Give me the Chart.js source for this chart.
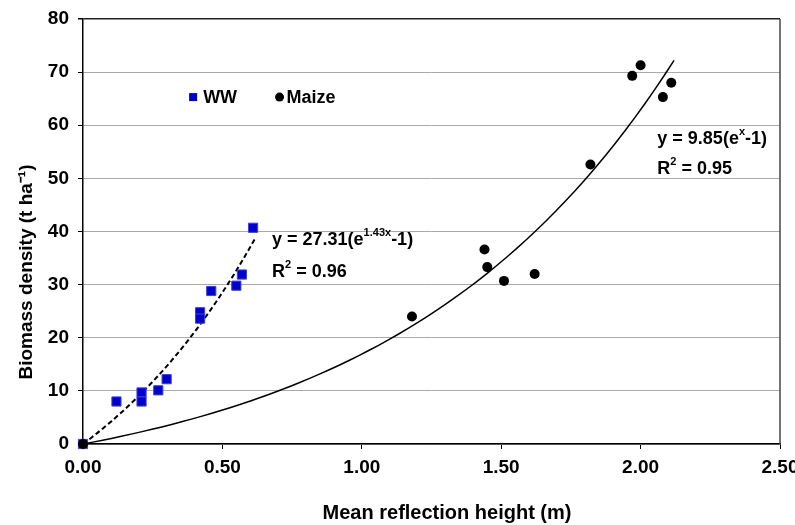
<!DOCTYPE html>
<html>
<head>
<meta charset="utf-8">
<script src="https://cdn.jsdelivr.net/npm/chart.js@4.4.1/dist/chart.umd.min.js"></script>
<style>
html, body { margin: 0; padding: 0; background: #fff; }
</style>
</head>
<body>
<canvas id="chart-area" width="795" height="525"></canvas>
<script>
// measured points
var wwX = [0, 0.12, 0.21, 0.21, 0.27, 0.30, 0.42, 0.42, 0.46, 0.55, 0.57, 0.61];
var wwY = [0, 8.0, 9.7, 8.0, 10.1, 12.2, 24.8, 23.6, 28.8, 29.8, 31.9, 40.7];
var maizeX = [0, 1.18, 1.44, 1.45, 1.51, 1.62, 1.82, 1.97, 2.00, 2.08, 2.11];
var maizeY = [0, 24.0, 36.6, 33.3, 30.7, 32.0, 52.6, 69.3, 71.3, 65.3, 68.0];

// fitted curves y = a(e^(bx) - 1), as printed on the chart
var wwFit = { a: 27.31, b: 1.43, xMax: 0.62 };
var maizeFit = { a: 9.85, b: 1.0, xMax: 2.12 };

var xTicks = [0, 0.5, 1, 1.5, 2, 2.5];
var yTicks = [0, 10, 20, 30, 40, 50, 60, 70, 80];

var xTitle = 'Mean reflection height (m)';
var yTitle = 'Biomass density (t ha\u207B\u00B9)';

var FONT = "'Liberation Sans', Arial, sans-serif";

function toPoints(xs, ys) {
    return xs.map(function (x, i) { return { x: x, y: ys[i] }; });
}

function fitPoints(fit) {
    var pts = [];
    var n = 60;
    for (var i = 0; i <= n; i++) {
        var x = fit.xMax * i / n;
        pts.push({ x: x, y: fit.a * (Math.exp(fit.b * x) - 1) });
    }
    return pts;
}

// text with superscript parts
function drawRich(ctx, parts, x, y) {
    ctx.textBaseline = 'middle';
    ctx.textAlign = 'left';
    ctx.fillStyle = '#000';
    parts.forEach(function (p) {
        if (p.sup) {
            ctx.font = 'bold 11px ' + FONT;
            ctx.fillText(p.t, x, y - 7);
        } else {
            ctx.font = 'bold 18px ' + FONT;
            ctx.fillText(p.t, x, y);
        }
        x += ctx.measureText(p.t).width;
    });
}

var extras = {
    id: 'extras',
    beforeDatasetsDraw: function (chart) {
        var ctx = chart.ctx, a = chart.chartArea;
        ctx.save();
        ctx.strokeStyle = '#444';
        ctx.lineWidth = 1.5;
        ctx.beginPath();
        ctx.moveTo(a.right, a.top);
        ctx.lineTo(a.right, a.bottom);
        ctx.stroke();
        ctx.restore();
    },
    afterDraw: function (chart) {
        var ctx = chart.ctx;
        var xs = chart.scales.x, ys = chart.scales.y;
        ctx.save();

        // axis titles
        ctx.fillStyle = '#000';
        ctx.font = 'bold 20px ' + FONT;
        ctx.textAlign = 'center';
        ctx.textBaseline = 'middle';
        ctx.fillText(xTitle, 447, 513);
        ctx.save();
        ctx.translate(27, 272);
        ctx.rotate(-Math.PI / 2);
        ctx.font = 'bold 19px ' + FONT;
        ctx.fillText(yTitle, 0, 0);
        ctx.restore();

        // legend
        var lx = xs.getPixelForValue(0.395), ly = ys.getPixelForValue(65.3);
        ctx.fillStyle = '#0000cc';
        ctx.fillRect(lx - 4, ly - 4, 8, 8);
        ctx.fillStyle = '#000';
        ctx.font = 'bold 18px ' + FONT;
        ctx.textBaseline = 'middle';
        ctx.textAlign = 'left';
        ctx.fillText('WW', lx + 10, ly + 1);
        var mx = xs.getPixelForValue(0.705);
        ctx.beginPath();
        ctx.arc(mx, ly, 4.5, 0, Math.PI * 2);
        ctx.fill();
        ctx.fillText('Maize', mx + 7, ly + 1);

        // equations
        drawRich(ctx, [{ t: 'y = 27.31(e' }, { t: '1.43x', sup: true }, { t: '-1)' }],
            xs.getPixelForValue(0.678), ys.getPixelForValue(38.4));
        drawRich(ctx, [{ t: 'R' }, { t: '2', sup: true }, { t: ' = 0.96' }],
            xs.getPixelForValue(0.678), ys.getPixelForValue(32.4));
        drawRich(ctx, [{ t: 'y = 9.85(e' }, { t: 'x', sup: true }, { t: '-1)' }],
            xs.getPixelForValue(2.06), ys.getPixelForValue(57.4));
        drawRich(ctx, [{ t: 'R' }, { t: '2', sup: true }, { t: ' = 0.95' }],
            xs.getPixelForValue(2.06), ys.getPixelForValue(51.8));
        ctx.restore();
    }
};

var config = {
    type: 'scatter',
    data: {
        datasets: [{
            label: 'Maize',
            data: toPoints(maizeX, maizeY),
            pointStyle: 'circle',
            pointRadius: 5,
            backgroundColor: '#000',
            borderColor: '#000',
            borderWidth: 0,
            clip: false
        }, {
            label: 'WW',
            data: toPoints(wwX, wwY),
            pointStyle: 'rect',
            pointRadius: 6.5,
            backgroundColor: '#0000cc',
            borderColor: '#4040dd',
            borderWidth: 1,
            clip: false
        }, {
            label: 'WW fit',
            data: fitPoints(wwFit),
            showLine: true,
            pointRadius: 0,
            borderColor: '#000',
            borderWidth: 2,
            borderDash: [5, 3]
        }, {
            label: 'Maize fit',
            data: fitPoints(maizeFit),
            showLine: true,
            pointRadius: 0,
            borderColor: '#000',
            borderWidth: 1.5
        }]
    },
    options: {
        responsive: false,
        animation: false,
        layout: { padding: { top: 19, right: 15, left: 12, bottom: 0 } },
        plugins: {
            legend: { display: false },
            tooltip: { enabled: false }
        },
        scales: {
            x: {
                type: 'linear',
                min: 0,
                max: 2.5,
                afterBuildTicks: function (s) { s.ticks = xTicks.map(function (v) { return { value: v }; }); },
                afterFit: function (s) { s.height = 81; s.paddingRight = 0; s.paddingLeft = 0; },
                ticks: {
                    color: '#000',
                    font: { family: FONT, size: 19, weight: 'bold' },
                    padding: 7,
                    maxRotation: 0,
                    callback: function (v) { return v.toFixed(2); }
                },
                grid: { drawOnChartArea: false, tickLength: 5, tickColor: '#000' },
                border: { color: '#000', width: 1.5 },
                title: { display: false }
            },
            y: {
                min: 0,
                max: 80,
                afterBuildTicks: function (s) { s.ticks = yTicks.map(function (v) { return { value: v }; }); },
                afterFit: function (s) { s.width = 71; s.paddingTop = 0; s.paddingBottom = 0; },
                ticks: {
                    color: '#000',
                    font: { family: FONT, size: 19, weight: 'bold' },
                    padding: 9
                },
                grid: {
                    color: function (c) { return c.tick && c.tick.value === 80 ? '#222' : '#aaaaaa'; },
                    lineWidth: function (c) { return c.tick && c.tick.value === 80 ? 1.5 : 1; },
                    tickLength: 5,
                    tickColor: '#000'
                },
                border: { color: '#000', width: 1.5 },
                title: { display: false }
            }
        }
    },
    plugins: [extras]
};

window.onload = function () {
    var ctx = document.getElementById('chart-area').getContext('2d');
    window.myChart = new Chart(ctx, config);
};
</script>
</body>
</html>
